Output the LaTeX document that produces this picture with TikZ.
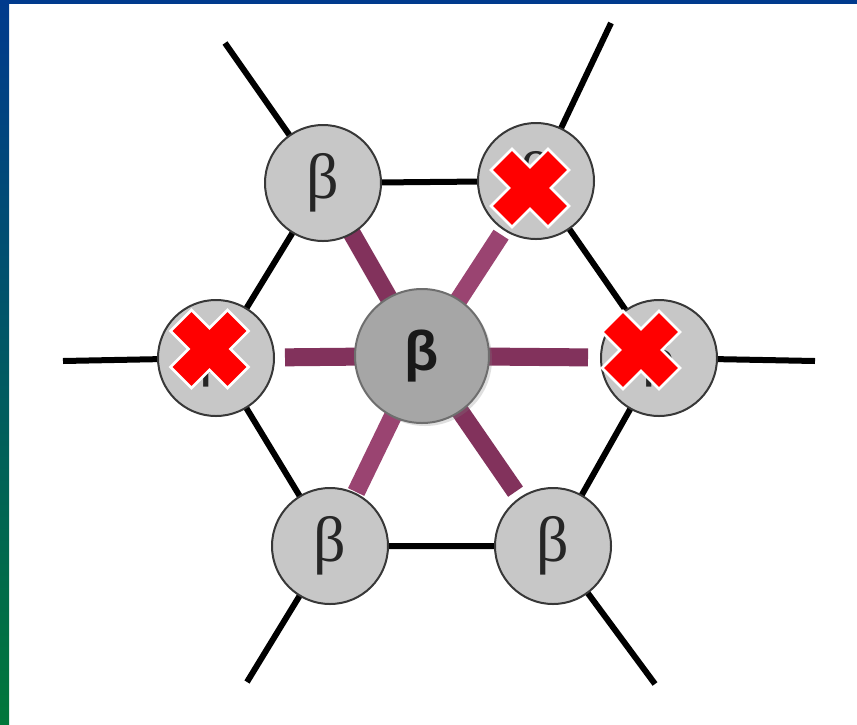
\documentclass[tikz,border=0pt]{standalone}
\usepackage{fontspec}
\newfontfamily\serifgreek{Liberation Serif}
\newfontfamily\sansgreek{Liberation Sans}
\usetikzlibrary{shadows}
\definecolor{frameblue}{HTML}{003A8D}
\definecolor{framegreen}{HTML}{00773A}
\definecolor{cellfill}{HTML}{C7C7C7}
\definecolor{cellline}{HTML}{383838}
\definecolor{hubfill}{HTML}{A6A6A6}
\definecolor{hubline}{HTML}{6E6E6E}
\definecolor{linkdark}{HTML}{82325C}
\definecolor{linklight}{HTML}{9A4471}
\definecolor{crossred}{HTML}{FF0000}
\pgfdeclarelayer{background}
\pgfsetlayers{background,main}
\tikzset{
  cell/.style={circle, draw=cellline, line width=2pt, fill=cellfill,
    minimum size=116pt, inner sep=0pt, text=black!85,
    font=\serifgreek\fontsize{64}{64}\selectfont},
  hub/.style={circle, draw=hubline, line width=2pt, fill=hubfill,
    minimum size=134pt, inner sep=0pt, text=black!90,
    drop shadow={opacity=0.25, shadow xshift=3pt, shadow yshift=-3pt},
    font=\sansgreek\bfseries\fontsize{56}{56}\selectfont},
  bond/.style={line width=6pt, black},
  link/.style={line width=18pt, line cap=butt},
  redcross/.pic={
    \fill[crossred, draw=white, line width=2.5pt, line join=miter]
      (-39,-18) -- (-18,-39) -- (0,-21) -- (18,-39) -- (39,-18) -- (21,0)
      -- (39,18) -- (18,39) -- (0,21) -- (-18,39) -- (-39,18) -- (-21,0)
      -- cycle;
  }
}
\begin{document}
\begin{tikzpicture}[x=1pt, y=-1pt]
\useasboundingbox (0,0) rectangle (857,724);

% cells of the hexagonal arrangement
\node[hub]  (c)  at (422,356) {β};
\node[cell] (tl) at (323,183) {β};
\node[cell] (tr) at (536,181) {β};
\node[cell] (l)  at (216,358) {β};
\node[cell] (r)  at (659,358) {β};
\node[cell] (bl) at (330,546) {β};
\node[cell] (br) at (553,546) {β};

% free ends of the outward bonds
\coordinate (tlend) at (225,43);
\coordinate (trend) at (611,23);
\coordinate (lend)  at (63,361);
\coordinate (rend)  at (815,361);
\coordinate (blend) at (247,682);
\coordinate (brend) at (655,684);

\begin{pgfonlayer}{background}
  % paper and frame strips
  \fill[white] (0,0) rectangle (857,724);
  \shade[top color=frameblue, bottom color=framegreen] (0,0) rectangle (9,724);
  \fill[frameblue] (0,0) rectangle (857,4);
  % ring bonds
  \draw[bond] (tl.center) -- (tr.center) -- (r.center) -- (br.center)
              -- (bl.center) -- (l.center) -- (tl.center);
  % outward bonds
  \draw[bond] (tl.center) -- (tlend);
  \draw[bond] (tr.center) -- (trend);
  \draw[bond] (l.center)  -- (lend);
  \draw[bond] (r.center)  -- (rend);
  \draw[bond] (bl.center) -- (blend);
  \draw[bond] (br.center) -- (brend);
  % links from the central cell
  \draw[link, linkdark,  shorten >=58pt] (c.center) -- (tl.center);
  \draw[link, linklight, shorten >=64pt] (c.center) -- (tr.center);
  \draw[link, linkdark,  shorten >=69pt] (c.center) -- (l.center);
  \draw[link, linkdark,  shorten >=71pt] (c.center) -- (r.center);
  \draw[link, linklight, shorten >=60pt] (c.center) -- (bl.center);
  \draw[link, linkdark,  shorten >=66pt] (c.center) -- (br.center);
\end{pgfonlayer}

% crossed-out cells
\pic at (209.5,349) {redcross};
\pic at (530,188)   {redcross};
\pic at (641,350)   {redcross};
\end{tikzpicture}
\end{document}
